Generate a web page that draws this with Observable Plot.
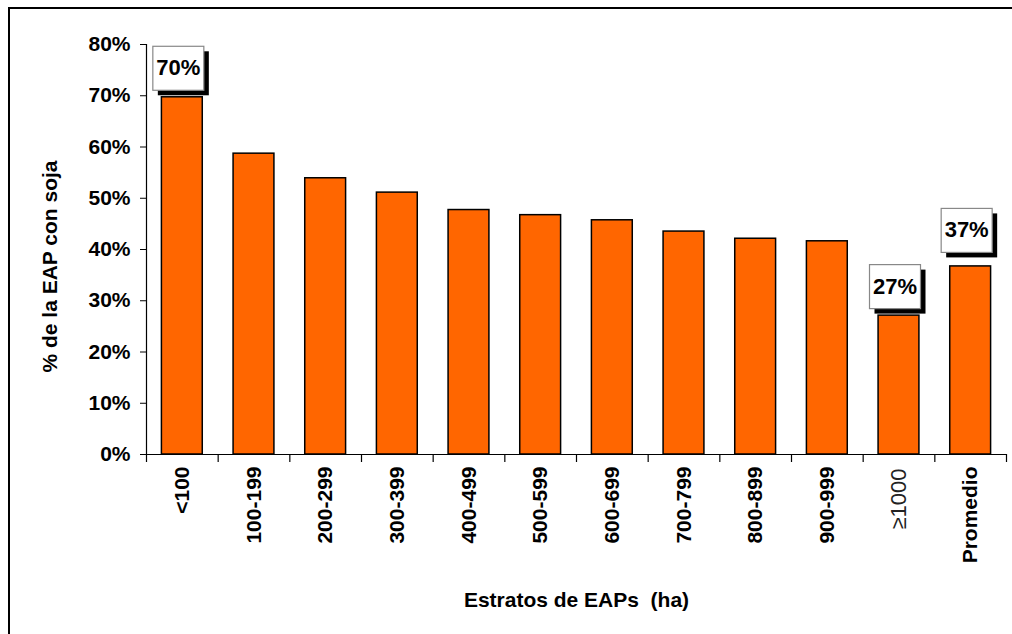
<!DOCTYPE html>
<html><head><meta charset="utf-8">
<script src="https://cdn.jsdelivr.net/npm/d3@7"></script>
<script src="https://cdn.jsdelivr.net/npm/@observablehq/plot@0.6"></script>
<style>
body{margin:0;background:#fff;}
#wrap{position:relative;width:1012px;height:634px;overflow:hidden;background:#fff;}
#border{position:absolute;left:8px;top:7px;right:-10px;bottom:-10px;border-top:2px solid #000;border-left:2px solid #000;pointer-events:none;}
svg text{white-space:pre;}
</style></head><body><div id="wrap"><div id="border"></div></div>
<script>
const categories = ["<100","100-199","200-299","300-399","400-499","500-599","600-699","700-799","800-899","900-999","≥1000","Promedio"];
const values = [0.697,0.587,0.539,0.511,0.477,0.467,0.457,0.435,0.421,0.416,0.271,0.367];
const labeled = ["<100","≥1000"];
const labeledAvg = ["Promedio"];
const yTicks = [0,0.1,0.2,0.3,0.4,0.5,0.6,0.7,0.8];
const yTitle = "% de la EAP con soja";
const xTitle = "Estratos de EAPs  (ha)";

const data = categories.map((c,i)=>({cat:c, value:values[i]}));
const fmt = d3.format(".0%");
const W=1012,H=634,mL=146,mR=6,mT=44,mB=180;
const step=(W-mL-mR)/categories.length;
const font="'Liberation Sans', Arial, Helvetica, sans-serif";
const LABEL_FILL="#010101";
const lab = {x:"cat", y:"value", text:d=>fmt(d.value), fontSize:22, fontWeight:"bold", fill:LABEL_FILL, lineAnchor:"middle", textAnchor:"middle"};

const plot = Plot.plot({
  width:W, height:H, marginLeft:mL, marginRight:mR, marginTop:mT, marginBottom:mB,
  style:{fontFamily:font, background:"transparent", overflow:"visible", color:"#000"},
  x:{domain:categories, paddingInner:0.43, paddingOuter:0.215, round:false, axis:null},
  y:{domain:[0,0.8], axis:null},
  marks:[
    Plot.barY(data,{x:"cat", y:"value", fill:"#FF6600", stroke:"#000", strokeWidth:1.5}),
    Plot.ruleY([0],{stroke:"#000", strokeWidth:1.2}),
    Plot.frame({anchor:"left", stroke:"#000", strokeWidth:1.2}),
    Plot.axisY({ticks:yTicks, tickFormat:fmt, tickSize:6, tickPadding:10, fontSize:21, fontWeight:"bold", label:null, anchor:"left"}),
    Plot.ruleX(categories,{x:d=>d, y1:0, y2:0, dx:-step/2, insetBottom:-8, stroke:"#000", strokeWidth:1.2}),
    Plot.ruleX(categories.slice(-1),{x:d=>d, y1:0, y2:0, dx:step/2, insetBottom:-8, stroke:"#000", strokeWidth:1.2}),
    Plot.text(categories.filter(c=>c!=="≥1000"),{x:d=>d, y:0, dy:12, rotate:-90, textAnchor:"end", lineAnchor:"middle", fontSize:21, fontWeight:"bold", fill:"#000"}),
    Plot.text(categories.filter(c=>c==="≥1000"),{x:d=>d, y:0, dy:14, rotate:-90, textAnchor:"end", lineAnchor:"middle", fontSize:22, fontWeight:"normal", fill:"#222"}),
    Plot.text([yTitle],{frameAnchor:"left", dx:-96, dy:17, rotate:-90, textAnchor:"middle", fontSize:21, fontWeight:"bold", fill:"#000", lineAnchor:"middle"}),
    Plot.text([xTitle],{frameAnchor:"bottom", dy:146, textAnchor:"middle", fontSize:21, fontWeight:"bold", fill:"#000", lineAnchor:"middle"}),
    Plot.text(data.filter(d=>labeled.includes(d.cat)),{...lab, dx:-4, dy:-29}),
    Plot.text(data.filter(d=>labeledAvg.includes(d.cat)),{...lab, dx:-4, dy:-36})
  ]
});
document.getElementById("wrap").appendChild(plot);

// boxes with drop shadow behind the data labels
const ns="http://www.w3.org/2000/svg";
plot.querySelectorAll('g[fill="'+LABEL_FILL+'"] text').forEach(t=>{
  const tr=t.getAttribute("transform");
  const xa=t.getAttribute("x"), tx=(xa && !/em/.test(xa)) ? parseFloat(xa)||0 : 0;
  const ya=t.getAttribute("y"), ty=(ya && !/em/.test(ya)) ? parseFloat(ya)||0 : 0;
  const mk=(ox,oy,fill,stroke)=>{
    const r=document.createElementNS(ns,"rect");
    r.setAttribute("x",tx-25.5+ox); r.setAttribute("y",ty-22+oy);
    r.setAttribute("width",51); r.setAttribute("height",44);
    r.setAttribute("fill",fill);
    if(stroke){r.setAttribute("stroke",stroke); r.setAttribute("stroke-width",1.2);}
    else r.setAttribute("stroke","none");
    if(tr) r.setAttribute("transform",tr);
    return r;
  };
  t.parentNode.insertBefore(mk(5,5,"#000",null),t);
  t.parentNode.insertBefore(mk(0,0,"#fff","#888"),t);
});
</script></body></html>
